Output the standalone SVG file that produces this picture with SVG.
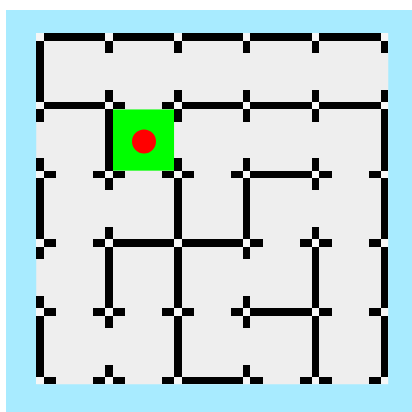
<svg xmlns="http://www.w3.org/2000/svg" width="412" height="412" viewBox="0 0 412 412">
  <style>
    .wall { stroke: #000000; stroke-width: 7.5; fill: none; stroke-linecap: butt; }
    .vtx { fill: #f6f6f6; }
  </style>
  <rect x="0" y="0" width="412" height="412" fill="#ffffff"/>
  <rect x="6" y="10" width="406" height="402" fill="#a8ebff"/>
  <rect x="36.25" y="33.25" width="352" height="351" fill="#eeeeee"/>
  <g id="goal">
    <rect x="112.65" y="109.45" width="61.4" height="61.2" fill="#00ff00"/>
    <circle cx="144" cy="141.5" r="12" fill="#ff0000"/>
  </g>
  <g id="stubs" class="wall" shape-rendering="crispEdges">
    <path d="M40 37 H56 M92.9 37 H124.9 M161.8 37 H193.8 M230.7 37 H262.7 M299.6 37 H331.6 M368.5 37 H384.5
             M40 105.7 H56 M92.9 105.7 H124.9 M161.8 105.7 H193.8 M230.7 105.7 H262.7 M299.6 105.7 H331.6 M368.5 105.7 H384.5
             M40 174.4 H56 M92.9 174.4 H124.9 M161.8 174.4 H193.8 M230.7 174.4 H262.7 M299.6 174.4 H331.6 M368.5 174.4 H384.5
             M40 243.1 H56 M92.9 243.1 H124.9 M161.8 243.1 H193.8 M230.7 243.1 H262.7 M299.6 243.1 H331.6 M368.5 243.1 H384.5
             M40 311.8 H56 M92.9 311.8 H124.9 M161.8 311.8 H193.8 M230.7 311.8 H262.7 M299.6 311.8 H331.6 M368.5 311.8 H384.5
             M40 380.5 H56 M92.9 380.5 H124.9 M161.8 380.5 H193.8 M230.7 380.5 H262.7 M299.6 380.5 H331.6 M368.5 380.5 H384.5
             M40 37 V53 M40 89.7 V121.7 M40 158.4 V190.4 M40 227.1 V259.1 M40 295.8 V327.8 M40 364.5 V380.5
             M108.9 37 V53 M108.9 89.7 V121.7 M108.9 158.4 V190.4 M108.9 227.1 V259.1 M108.9 295.8 V327.8 M108.9 364.5 V380.5
             M177.8 37 V53 M177.8 89.7 V121.7 M177.8 158.4 V190.4 M177.8 227.1 V259.1 M177.8 295.8 V327.8 M177.8 364.5 V380.5
             M246.7 37 V53 M246.7 89.7 V121.7 M246.7 158.4 V190.4 M246.7 227.1 V259.1 M246.7 295.8 V327.8 M246.7 364.5 V380.5
             M315.6 37 V53 M315.6 89.7 V121.7 M315.6 158.4 V190.4 M315.6 227.1 V259.1 M315.6 295.8 V327.8 M315.6 364.5 V380.5
             M384.5 37 V53 M384.5 89.7 V121.7 M384.5 158.4 V190.4 M384.5 227.1 V259.1 M384.5 295.8 V327.8 M384.5 364.5 V380.5"/>
  </g>
  <g id="walls" class="wall" shape-rendering="crispEdges">
    <path d="M40 37 H384.5
             M40 105.7 H108.9 M177.8 105.7 H384.5
             M246.7 174.4 H315.6
             M108.9 243.1 H246.7
             M246.7 311.8 H315.6
             M177.8 380.5 H246.7
             M40 37 V105.7 M40 174.4 V243.1 M40 311.8 V380.5
             M108.9 105.7 V174.4 M108.9 243.1 V311.8
             M177.8 174.4 V380.5
             M246.7 174.4 V243.1
             M315.6 243.1 V380.5
             M384.5 105.7 V380.5"/>
  </g>
  <g id="vertices" class="vtx" shape-rendering="crispEdges">
    <rect x="36.25" y="33.25" width="7.5" height="7.5"/><rect x="105.15" y="33.25" width="7.5" height="7.5"/><rect x="174.05" y="33.25" width="7.5" height="7.5"/><rect x="242.95" y="33.25" width="7.5" height="7.5"/><rect x="311.85" y="33.25" width="7.5" height="7.5"/><rect x="380.75" y="33.25" width="7.5" height="7.5"/>
    <rect x="36.25" y="101.95" width="7.5" height="7.5"/><rect x="105.15" y="101.95" width="7.5" height="7.5"/><rect x="174.05" y="101.95" width="7.5" height="7.5"/><rect x="242.95" y="101.95" width="7.5" height="7.5"/><rect x="311.85" y="101.95" width="7.5" height="7.5"/><rect x="380.75" y="101.95" width="7.5" height="7.5"/>
    <rect x="36.25" y="170.65" width="7.5" height="7.5"/><rect x="105.15" y="170.65" width="7.5" height="7.5"/><rect x="174.05" y="170.65" width="7.5" height="7.5"/><rect x="242.95" y="170.65" width="7.5" height="7.5"/><rect x="311.85" y="170.65" width="7.5" height="7.5"/><rect x="380.75" y="170.65" width="7.5" height="7.5"/>
    <rect x="36.25" y="239.35" width="7.5" height="7.5"/><rect x="105.15" y="239.35" width="7.5" height="7.5"/><rect x="174.05" y="239.35" width="7.5" height="7.5"/><rect x="242.95" y="239.35" width="7.5" height="7.5"/><rect x="311.85" y="239.35" width="7.5" height="7.5"/><rect x="380.75" y="239.35" width="7.5" height="7.5"/>
    <rect x="36.25" y="308.05" width="7.5" height="7.5"/><rect x="105.15" y="308.05" width="7.5" height="7.5"/><rect x="174.05" y="308.05" width="7.5" height="7.5"/><rect x="242.95" y="308.05" width="7.5" height="7.5"/><rect x="311.85" y="308.05" width="7.5" height="7.5"/><rect x="380.75" y="308.05" width="7.5" height="7.5"/>
    <rect x="36.25" y="376.75" width="7.5" height="7.5"/><rect x="105.15" y="376.75" width="7.5" height="7.5"/><rect x="174.05" y="376.75" width="7.5" height="7.5"/><rect x="242.95" y="376.75" width="7.5" height="7.5"/><rect x="311.85" y="376.75" width="7.5" height="7.5"/><rect x="380.75" y="376.75" width="7.5" height="7.5"/>
  </g>
</svg>
